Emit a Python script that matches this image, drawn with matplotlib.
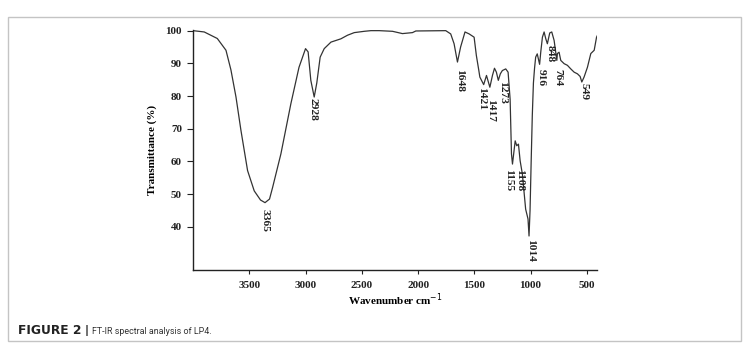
import numpy as np
import matplotlib.pyplot as plt
from matplotlib.patches import Rectangle

# FT-IR spectrum of LP4
wavenumber = [4000, 3900, 3784, 3707, 3663, 3618, 3574, 3515, 3456, 3400,
              3360, 3320, 3293, 3219, 3130, 3058, 3000, 2977, 2953, 2923,
              2900, 2870, 2834, 2774, 2686, 2627, 2567, 2478, 2419, 2345,
              2227, 2139, 2050, 2020, 1754, 1710, 1680, 1650, 1622, 1583,
              1546, 1502, 1482, 1460, 1451, 1417, 1392, 1362, 1339, 1321,
              1304, 1287, 1269, 1251, 1221, 1200, 1182, 1170, 1161, 1137,
              1123, 1108, 1093, 1073, 1044, 1023, 1014, 1005, 995, 985,
              975, 965, 955, 941, 920, 910, 895, 880, 865, 851,
              830, 812, 791, 767, 762, 747, 732, 702, 673, 643,
              613, 584, 560, 545, 525, 495, 465, 435, 414, 400]
transmittance = [100, 99.6, 97.6, 94.0, 88.0, 79.7, 69.5, 57.2, 51.0, 48.2,
                 47.4, 48.5, 52.0, 62.3, 77.7, 88.8, 94.5, 93.5, 84.8, 79.7,
                 84.0, 91.9, 94.5, 96.5, 97.5, 98.6, 99.4, 99.8, 100, 100,
                 99.8, 99.1, 99.4, 99.9, 100, 99.0, 96.0, 90.4, 95.0, 99.6,
                 99.0, 98.0, 92.4, 87.8, 85.8, 83.5, 86.3, 82.7, 86.3, 88.5,
                 87.3, 84.8, 86.8, 87.8, 88.3, 87.3, 79.0, 62.3, 59.2, 66.3,
                 64.8, 65.3, 60.2, 56.1, 45.4, 42.4, 37.2, 45.0, 60.0, 74.0,
                 84.0, 88.5, 91.9, 92.9, 89.7, 93.4, 98.0, 99.6, 97.5, 96.0,
                 99.3, 99.6, 97.0, 90.9, 93.0, 93.4, 90.9, 89.9, 89.4, 88.3,
                 87.3, 86.8, 86.0, 84.3, 85.8, 88.8, 93.0, 94.0, 98.0, 99.0]

# peak labels: text, label centre (cm-1), label top (%)
peak_text = ["3365", "2928", "1648", "1421", "1417", "1273", "1155", "1108",
             "1014", "916", "848", "764", "549"]
peak_x = [3358, 2932, 1635, 1440, 1352, 1250, 1200, 1102, 1004, 907, 827, 756, 525]
peak_y = [45.5, 79.3, 88.4, 82.8, 79.0, 84.5, 57.8, 57.8, 36.3, 88.4, 95.5, 88.4, 84.1]

yticks = [40, 50, 60, 70, 80, 90, 100]
xticks = [3500, 3000, 2500, 2000, 1500, 1000, 500]

serif = "Liberation Serif"

fig = plt.figure(figsize=(7.48, 3.47), dpi=100)
ax = fig.add_axes([193 / 748, 1 - 270 / 347, (597 - 193) / 748, (270 - 30) / 347])

ax.plot(wavenumber, transmittance, color="#333333", linewidth=0.9)

for txt, x, y in zip(peak_text, peak_x, peak_y):
    ax.text(x, y, txt, rotation=270, ha="center", va="top",
            fontsize=8.2, fontweight="bold", family=serif, color="#222222")

ax.set_xlim(4000, 410)
ax.set_ylim(26.8, 100.2)
ax.set_xticks(xticks)
ax.set_yticks(yticks)
ax.set_xticklabels([str(t) for t in xticks], fontsize=8, fontweight="bold", family=serif)
ax.set_yticklabels([str(t) for t in yticks], fontsize=8, fontweight="bold", family=serif)
ax.tick_params(axis="x", length=3, width=0.8, pad=5, colors="#222222")
ax.tick_params(axis="y", length=4, width=0.8, pad=4, colors="#222222")

for side in ["top", "right"]:
    ax.spines[side].set_visible(False)
for side in ["left", "bottom"]:
    ax.spines[side].set_linewidth(1.0)
    ax.spines[side].set_color("#222222")

ax.set_ylabel("Transmittance (%)", fontsize=8, fontweight="bold", family=serif, labelpad=6)
ax.set_xlabel("Wavenumber cm$^{-1}$", fontsize=8, fontweight="bold", family=serif, labelpad=1)

# frame and caption around the figure
fig.patches.append(Rectangle((8 / 748, 1 - 341 / 347), 733 / 748, 324 / 347,
                             transform=fig.transFigure, fill=False,
                             edgecolor="#c4c4c4", linewidth=1.0))
fig.text(18 / 748, 1 - 331 / 347, "FIGURE 2", fontsize=8.8, fontweight="bold",
         family="DejaVu Sans", va="center", color="#222222")
fig.text(85 / 748, 1 - 331 / 347, "|", fontsize=8, fontweight="bold",
         family="DejaVu Sans", va="center", color="#222222")
fig.text(92 / 748, 1 - 331 / 347, "FT-IR spectral analysis of LP4.", fontsize=6.4,
         family="Roboto", va="center", color="#333333")

fig.savefig("out.png", dpi=100)
